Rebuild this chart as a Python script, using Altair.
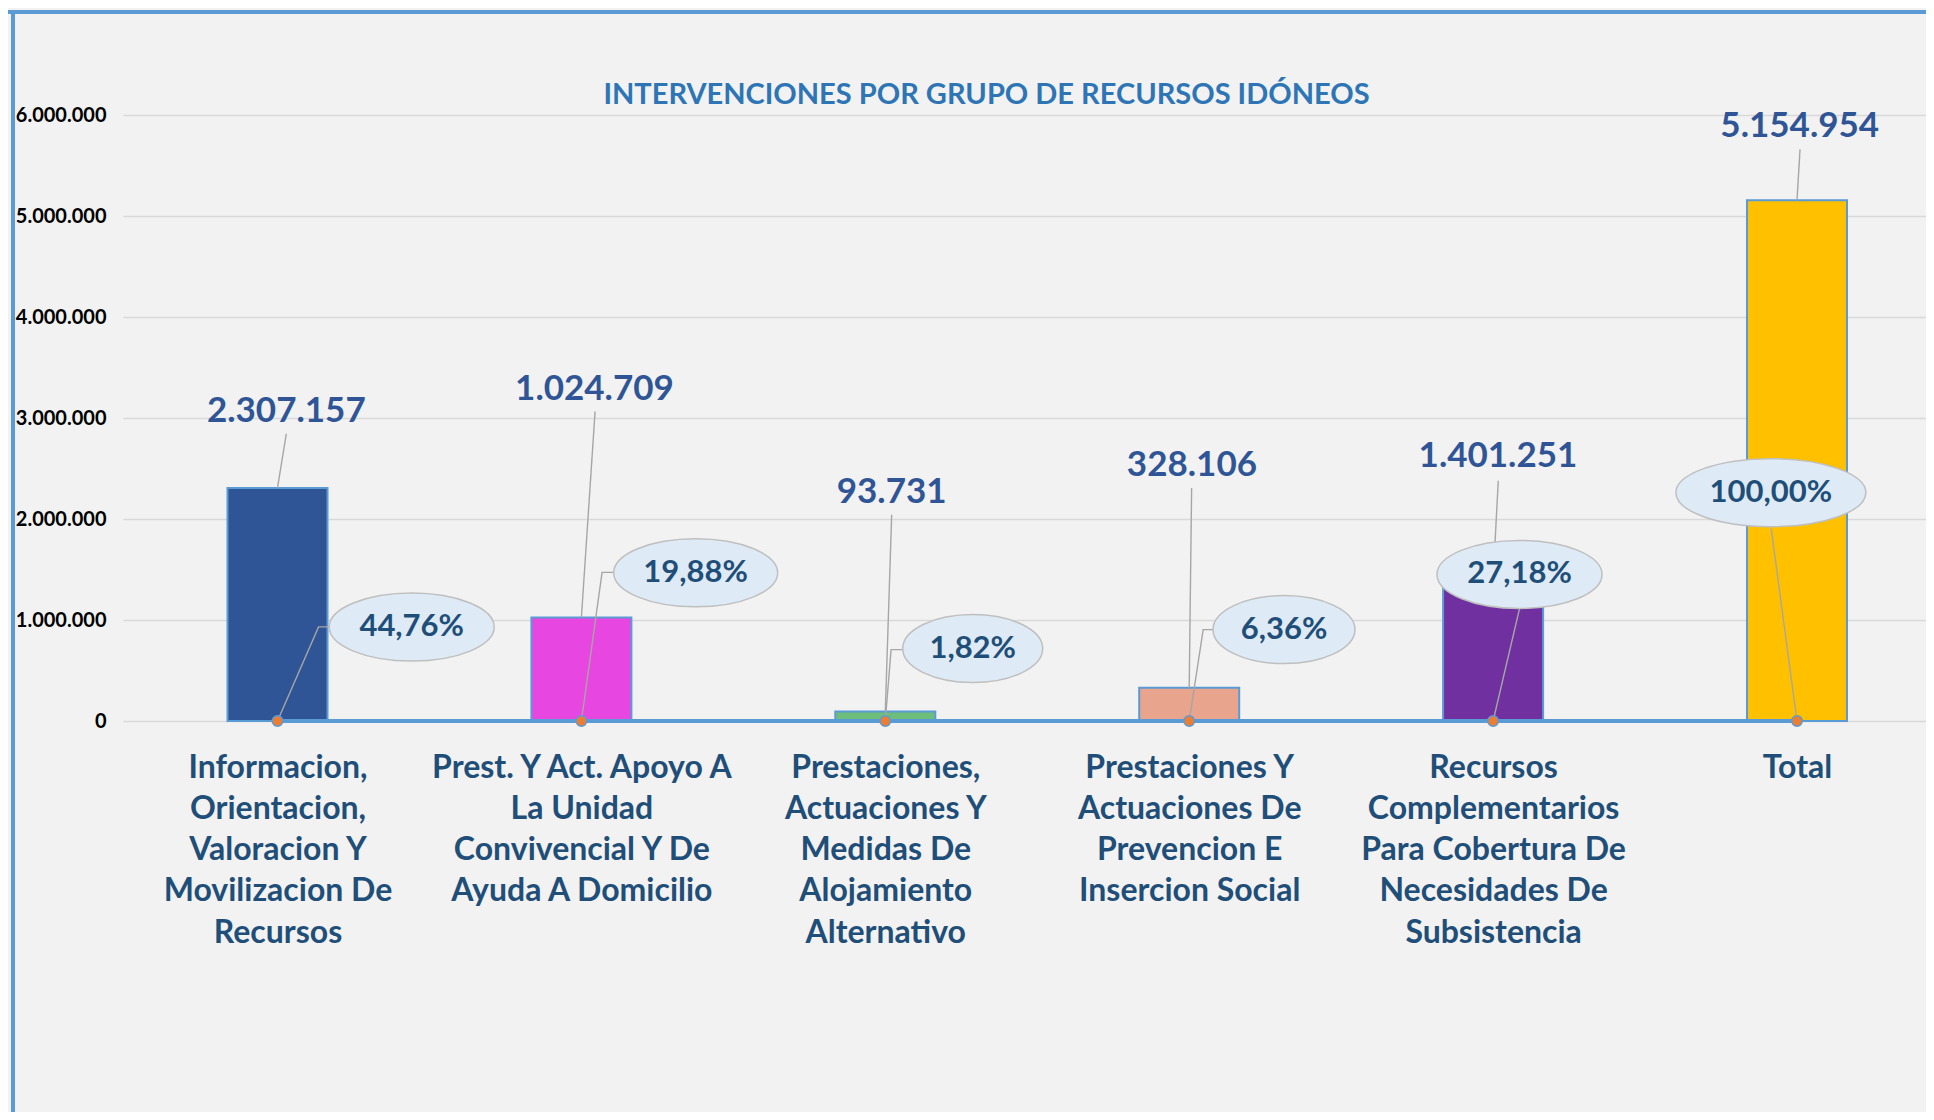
import json
import altair as alt
import pandas as pd

# ---------------- data ----------------
title_text = "INTERVENCIONES POR GRUPO DE RECURSOS IDÓNEOS"
category_lines = [
    ["Informacion,", "Orientacion,", "Valoracion Y", "Movilizacion De", "Recursos"],
    ["Prest. Y Act. Apoyo A", "La Unidad", "Convivencial Y De", "Ayuda A Domicilio"],
    ["Prestaciones,", "Actuaciones Y", "Medidas De", "Alojamiento", "Alternativo"],
    ["Prestaciones Y", "Actuaciones De", "Prevencion E", "Insercion Social"],
    ["Recursos", "Complementarios", "Para Cobertura De", "Necesidades De", "Subsistencia"],
    ["Total"],
]
values = [2307157, 1024709, 93731, 328106, 1401251, 5154954]
percentages = [44.76, 19.88, 1.82, 6.36, 27.18, 100.00]
y_ticks = [0, 1000000, 2000000, 3000000, 4000000, 5000000, 6000000]

# ---------------- styles ----------------
bar_colors = ["#2F5597", "#E846E0", "#6DBE7A", "#E8A48D", "#7030A0", "#FFC000"]
BLUE_EDGE = "#5B9BD5"
FONT = "Lato"

# ---------------- label layout (x offset in category units, y in data units) ----------------
value_label_pos = [(0.029, 3.074e6), (0.043, 3.287e6), (0.021, 2.270e6),
                   (0.009, 2.532e6), (0.016, 2.621e6), (0.009, 5.892e6)]
value_leader_top = [(0.029, 2.844e6), (0.045, 3.065e6), (0.021, 2.043e6),
                    (0.008, 2.307e6), (0.017, 2.378e6), (0.010, 5.660e6)]
bubble_pos = [(0.4416, 0.930e6), (0.376, 1.467e6), (0.2876, 0.717e6),
              (0.312, 0.905e6), (0.0869, 1.451e6), (-0.0859, 2.261e6)]
bubble_w = [165, 164, 140, 142, 165, 190]
bubble_h = 68
pct_leader_pts = [
    [(0.135, 0.932e6), (0.173, 0.932e6)],
    [(0.068, 1.472e6), (0.106, 1.472e6)],
    [(0.019, 0.707e6), (0.057, 0.707e6)],
    [(0.046, 0.905e6), (0.079, 0.905e6)],
    [(0.087, 1.113e6)],
    [(-0.085, 1.906e6)],
]

W, H = 1803, 606
X_DOMAIN = [-0.5084, 5.4245]


def ellipse_path(ratio):
    return f"M-1,0A1,{ratio:.4f},0,1,1,1,0A1,{ratio:.4f},0,1,1,-1,0Z"


rows = []
for i, v in enumerate(values):
    rows.append({
        "idx": i,
        "value": v,
        "pct_y": percentages[i] / 100.0,
        "color": bar_colors[i],
        "val_label": f"{v:,}".replace(",", "."),
        "pct_label": f"{percentages[i]:.2f}".replace(".", ",") + "%",
        "vlx": i + value_label_pos[i][0],
        "vly": value_label_pos[i][1],
        "bx": i + bubble_pos[i][0],
        "by": bubble_pos[i][1],
        "bsize": bubble_w[i] ** 2,
        "bshape": ellipse_path(bubble_h / bubble_w[i]),
    })
df = pd.DataFrame(rows)

lead_rows = []
for i, v in enumerate(values):
    lead_rows.append({"lid": f"v{i}", "o": 0, "lx": i + value_leader_top[i][0], "ly": value_leader_top[i][1]})
    lead_rows.append({"lid": f"v{i}", "o": 1, "lx": i, "ly": v})
    lead_rows.append({"lid": f"p{i}", "o": 0, "lx": i, "ly": percentages[i] / 100.0})
    for k, (dx, yy) in enumerate(pct_leader_pts[i]):
        lead_rows.append({"lid": f"p{i}", "o": k + 1, "lx": i + dx, "ly": yy})
leaders = pd.DataFrame(lead_rows)

x_label_expr = json.dumps(category_lines) + "[datum.value]"

x_axis = alt.Axis(values=list(range(len(values))), labelExpr=x_label_expr, grid=False,
                  ticks=False, domain=False, labelFont=FONT, labelFontSize=32,
                  labelFontWeight="bold", labelColor="#1F4E79", labelLineHeight=41.3,
                  labelPadding=31, labelOverlap=False, labelBound=False, labelFlush=False,
                  labelLimit=1000, title=None)
y_axis = alt.Axis(values=y_ticks,
                  labelExpr="replace(replace(format(datum.value, ','), ',', '.'), ',', '.')",
                  grid=True, gridColor="#D9D9D9", gridWidth=1.5, ticks=False, domain=False,
                  labelFont=FONT, labelFontSize=20, labelFontWeight="bold",
                  labelColor="#000000", labelPadding=17, title=None)
x_scale = alt.Scale(domain=X_DOMAIN, nice=False, zero=False, padding=0)
y_scale = alt.Scale(domain=[0, 6000000], nice=False, padding=0)


def X(f):
    return alt.X(f"{f}:Q", scale=x_scale, axis=x_axis)


def Y(f):
    return alt.Y(f"{f}:Q", scale=y_scale, axis=y_axis)


base = alt.Chart(df)

bars = base.mark_bar(size=100, stroke=BLUE_EDGE, strokeWidth=2).encode(
    x=X("idx"), y=Y("value"), y2=alt.datum(0),
    color=alt.Color("color:N", scale=None),
)

leader_lines = alt.Chart(leaders).mark_line(color="#A6A6A6", strokeWidth=1.4).encode(
    x=X("lx"), y=Y("ly"), detail="lid:N", order="o:Q",
)

pct_line = base.mark_line(color=BLUE_EDGE, strokeWidth=4).encode(
    x=X("idx"), y=Y("pct_y"),
)

dots = base.mark_point(filled=True, shape="circle", size=110, fill="#ED7D31",
                       stroke=BLUE_EDGE, strokeWidth=1.5, opacity=1).encode(
    x=X("idx"), y=Y("pct_y"),
)

bubbles = base.mark_point(filled=True, fill="#DEEBF7", fillOpacity=1, stroke="#BFBFBF",
                          strokeWidth=1.5, opacity=1).encode(
    x=X("bx"), y=Y("by"),
    shape=alt.Shape("bshape:N", scale=None),
    size=alt.Size("bsize:Q", scale=None),
)

val_text = base.mark_text(font=FONT, fontSize=35, fontWeight="bold", color="#2F5597",
                          align="center", baseline="middle").encode(
    x=X("vlx"), y=Y("vly"), text="val_label:N",
)

pct_text = base.mark_text(font=FONT, fontSize=31, fontWeight="bold", color="#1F4E79",
                          align="center", baseline="middle").encode(
    x=X("bx"), y=Y("by"), text="pct_label:N",
)

one = pd.DataFrame({"t": [title_text]})
title_mark = alt.Chart(one).mark_text(font=FONT, fontSize=29, fontWeight="bold",
                                      color="#2E75B6", align="center", baseline="middle").encode(
    x=alt.value(863.5), y=alt.value(-20), text="t:N")
top_border = alt.Chart(one).mark_rule(color=BLUE_EDGE, strokeWidth=4).encode(
    x=alt.value(-115), x2=alt.value(W), y=alt.value(-103))
left_border = alt.Chart(one).mark_rule(color=BLUE_EDGE, strokeWidth=4).encode(
    x=alt.value(-110), y=alt.value(-105), y2=alt.value(1000))

chart = alt.layer(
    bars, leader_lines, pct_line, dots, bubbles, val_text, pct_text,
    title_mark, top_border, left_border
).properties(
    width=W, height=H,
    padding={"left": 115, "top": 107, "right": 0, "bottom": 391},
    autosize=alt.AutoSizeParams(type="none"),
).configure(background="#F2F2F2", font=FONT).configure_view(stroke=None)

chart.save("out.html", embed_options={"renderer": "svg", "actions": False})
